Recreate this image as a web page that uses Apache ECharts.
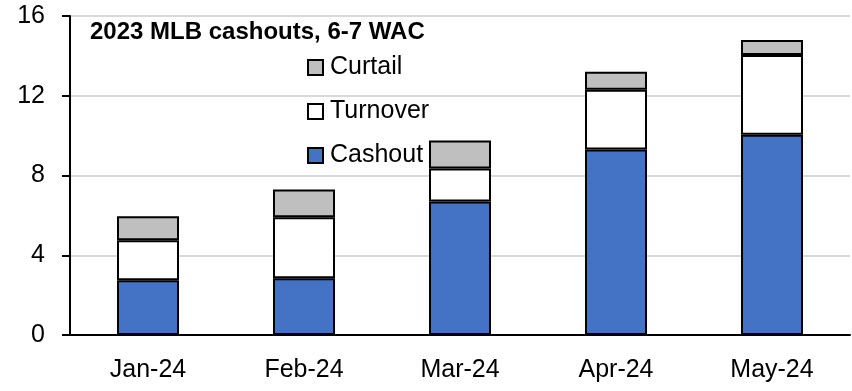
<!DOCTYPE html>
<html>
<head>
<meta charset="utf-8">
<script src="https://cdn.jsdelivr.net/npm/echarts@6/dist/echarts.min.js"></script>
<style>
html,body{margin:0;padding:0;background:#fff;}
#chart{width:852px;height:391px;}
</style>
</head>
<body>
<div id="chart"></div>
<script>
var categories = ['Jan-24', 'Feb-24', 'Mar-24', 'Apr-24', 'May-24'];
var cashout = [2.75, 2.85, 6.7, 9.3, 10.05];
var turnover = [2.0, 3.05, 1.65, 3.0, 4.0];
var curtail = [1.2, 1.4, 1.4, 0.9, 0.75];
var titleText = '2023 MLB cashouts, 6-7 WAC';

var FONT = '"Liberation Sans Narrow", "Arial Narrow", "Liberation Sans", Arial, sans-serif';
var chart = echarts.init(document.getElementById('chart'), null, {renderer: 'canvas'});

function bar(name, data, color) {
  return {
    name: name,
    type: 'bar',
    stack: 'total',
    data: data,
    barWidth: 62,
    itemStyle: {color: color, borderColor: '#000', borderWidth: 2},
    emphasis: {disabled: true}
  };
}

chart.setOption({
  animation: false,
  backgroundColor: '#fff',
  title: {
    text: titleText,
    left: 85,
    top: 15,
    textStyle: {fontFamily: FONT, fontWeight: 'bold', fontSize: 24, color: '#000'}
  },
  legend: {
    orient: 'vertical',
    left: 302,
    top: 50,
    itemWidth: 15,
    itemHeight: 15,
    itemGap: 19,
    icon: 'rect',
    data: ['Curtail', 'Turnover', 'Cashout'],
    textStyle: {fontFamily: FONT, fontSize: 25, color: '#000', padding: [0, 0, 0, 2]},
    itemStyle: {borderColor: '#000', borderWidth: 2}
  },
  grid: {left: 70, right: 2, top: 16, bottom: 56, containLabel: false},
  xAxis: {
    type: 'category',
    data: categories,
    axisLine: {lineStyle: {color: '#000', width: 2}},
    axisTick: {show: false},
    axisLabel: {fontFamily: FONT, fontSize: 25, color: '#000', margin: 23},
    splitLine: {show: false}
  },
  yAxis: {
    type: 'value',
    min: 0,
    max: 16,
    interval: 4,
    axisLine: {show: true, lineStyle: {color: '#000', width: 2}},
    axisTick: {show: true, length: 8, lineStyle: {color: '#000', width: 2}},
    axisLabel: {fontFamily: FONT, fontSize: 25, color: '#000', margin: 25},
    splitLine: {show: true, lineStyle: {color: '#d9d9d9', width: 2}}
  },
  series: [
    bar('Cashout', cashout, '#4472C4'),
    bar('Turnover', turnover, '#FFFFFF'),
    bar('Curtail', curtail, '#BFBFBF')
  ]
});
</script>
</body>
</html>
